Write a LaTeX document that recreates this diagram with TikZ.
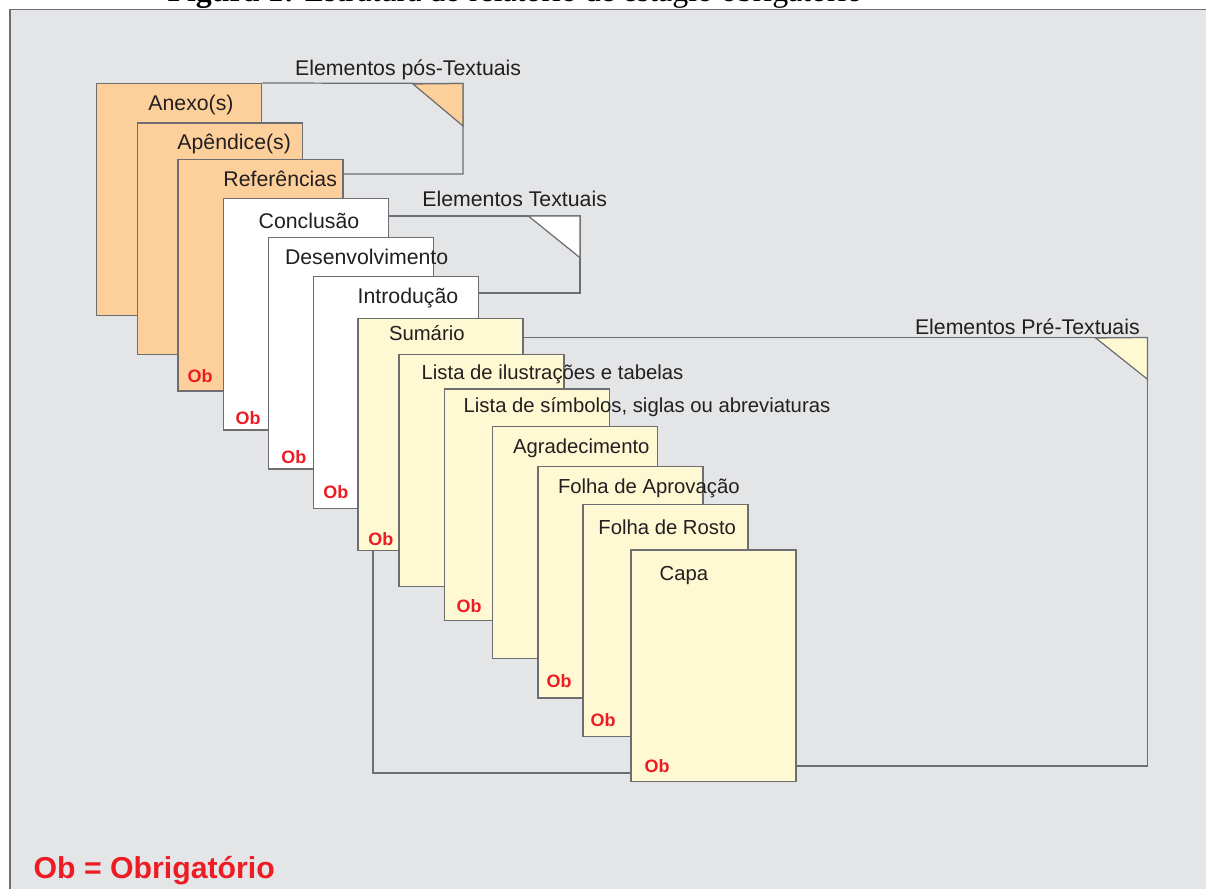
\documentclass[tikz,border=0pt]{standalone}
\usepackage{fontspec}
\setmainfont{Liberation Sans}
\newfontfamily\captionserif{Liberation Serif}
\definecolor{panelgray}{HTML}{E4E5E7}
\definecolor{edgegray}{HTML}{6D6E71}
\definecolor{postorange}{HTML}{FDD09B}
\definecolor{preyellow}{HTML}{FFF9D3}
\definecolor{obred}{HTML}{ED1C24}
\definecolor{inkblack}{HTML}{231F20}

\begin{document}
\begin{tikzpicture}[x=0.01cm,y=-0.01cm,
    sheet/.style={draw=edgegray,line width=0.35pt,anchor=north west,inner sep=0,
      minimum width=\sheetwidth cm,minimum height=\sheetheight cm},
    sheetlabel/.style={anchor=base west,inner sep=0,text=inkblack,font=\labelfontsize},
    prelabel/.style={sheetlabel,font=\prefontsize},
    obmark/.style={anchor=base west,inner sep=0,text=obred,font=\obfontsize\bfseries},
    bracket/.style={draw=edgegray,line width=0.35pt}]
    \pgfmathsetmacro{\sheetwidth}{1.65}  % pages are 165 x 231 px
    \pgfmathsetmacro{\sheetheight}{2.315}
    \providecommand{\labelfontsize}{\fontsize{6.05}{7}\selectfont}
    \providecommand{\prefontsize}{\fontsize{5.77}{7}\selectfont}
    \providecommand{\obfontsize}{\fontsize{5.1}{6}\selectfont}
    \providecommand{\legendfontsize}{\fontsize{8.6}{10}\selectfont}
    \clip (0,0) rectangle (1206,889);
    % grey panel with its caption cut off above
    \fill[panelgray] (10,9.5) rectangle (1206,889);
    \draw[edgegray,line width=0.45pt] (10,889) -- (10,9.5) -- (1206,9.5);
    \node[anchor=base west,inner sep=0,text=black,font=\captionserif\fontsize{9.05}{11}\selectfont] (caption) at (167,2)
    {\textbf{Figura 1:} Estrutura do relatório de estágio obrigatório};
    % bracket corners
    \coordinate (postop) at (463,83.5);
    \coordinate (posbot) at (463,174);
    \coordinate (txttop) at (580,216);
    \coordinate (txtbot) at (580,293);
    \coordinate (pretop) at (1147.5,337.5);
    \coordinate (prebot) at (1147.5,766);
    \coordinate (precorner) at (373,773);
    % pages, back to front
    \node[sheet,fill=postorange] (anexo) at (96,83) {};
    \node[sheet,fill=postorange] (apendice) at (136.7,122.3) {};
    \node[sheet,fill=postorange] (referencias) at (177.3,158.7) {};
    \draw[bracket] (anexo.north east) -- (postop) -- (posbot) -- (posbot -| referencias.east);
    \filldraw[bracket,fill=postorange] (413,84) -- (postop) -- (463,126) -- cycle;
    \node[sheet,fill=white] (conclusao) at (222.7,197.7) {};
    \node[sheet,fill=white] (desenvolvimento) at (267.7,236.7) {};
    \node[sheet,fill=white] (introducao) at (313,276) {};
    \draw[bracket] (txttop -| conclusao.east) -- (txttop) -- (txtbot) -- (txtbot -| introducao.east);
    \filldraw[bracket,fill=white] (528.3,216) -- (txttop) -- (580,257.7) -- cycle;
    \node[sheet,fill=preyellow] (sumario) at (357.3,318) {};
    \node[sheet,fill=preyellow] (ilustracoes) at (398.3,354) {};
    \node[sheet,fill=preyellow] (simbolos) at (444,388.3) {};
    \node[sheet,fill=preyellow] (agradecimento) at (491.7,426) {};
    \node[sheet,fill=preyellow] (aprovacao) at (537.3,465.7) {};
    \node[sheet,fill=preyellow] (rosto) at (582.3,504) {};
    \node[sheet,fill=preyellow] (capa) at (630.3,549.3) {};
    \draw[bracket] (pretop -| sumario.east) -- (pretop) -- (prebot) -- (prebot -| capa.east);
    \draw[bracket] (sumario.south -| precorner) -- (precorner) -- (precorner -| capa.west);
    \filldraw[bracket,fill=preyellow] (1095.7,338) -- (pretop) -- (1147.5,379.3) -- cycle;
    % page titles
    \node[sheetlabel] (anexolbl) at (147.7,111) {Anexo(s)};
    \node[sheetlabel] (apendicelbl) at (176.7,150) {Apêndice(s)};
    \node[sheetlabel] (referenciaslbl) at (222.7,187) {Referências};
    \node[sheetlabel] (conclusaolbl) at (258,228.3) {Conclusão};
    \node[sheetlabel] (desenvolvimentolbl) at (284.3,265) {Desenvolvimento};
    \node[sheetlabel] (introducaolbl) at (357,303.3) {Introdução};
    \node[prelabel] (sumariolbl) at (388.3,341) {Sumário};
    \node[prelabel] (ilustracoeslbl) at (421,379.3) {Lista de ilustrações e tabelas};
    \node[prelabel] (simboloslbl) at (463,412.7) {Lista de símbolos, siglas ou abreviaturas};
    \node[prelabel] (agradecimentolbl) at (512.3,453.3) {Agradecimento};
    \node[prelabel] (aprovacaolbl) at (557.3,493.3) {Folha de Aprovação};
    \node[prelabel] (rostolbl) at (597.7,534.3) {Folha de Rosto};
    \node[prelabel] (capalbl) at (659,580.7) {Capa};
    % group titles
    \node[sheetlabel] (poslbl) at (294.5,75.5) {Elementos pós-Textuais};
    \node[sheetlabel] (txtlbl) at (421.7,206.7) {Elementos Textuais};
    \node[sheetlabel] (prelbl) at (914.3,334.3) {Elementos Pré-Textuais};
    % mandatory marks
    \node[obmark] (obref) at (187,383) {Ob};
    \node[obmark] (obconcl) at (235,425) {Ob};
    \node[obmark] (obdesenv) at (280.7,464) {Ob};
    \node[obmark] (obintro) at (322.7,499) {Ob};
    \node[obmark] (obsum) at (367.7,545.7) {Ob};
    \node[obmark] (obsimb) at (456,612.3) {Ob};
    \node[obmark] (obaprov) at (546,688) {Ob};
    \node[obmark] (obrosto) at (590,727) {Ob};
    \node[obmark] (obcapa) at (644,772.7) {Ob};
    \node[anchor=base west,inner sep=0,text=obred,font=\legendfontsize\bfseries] (legend) at (33,878.5) {Ob = Obrigatório};
\end{tikzpicture}
\end{document}
